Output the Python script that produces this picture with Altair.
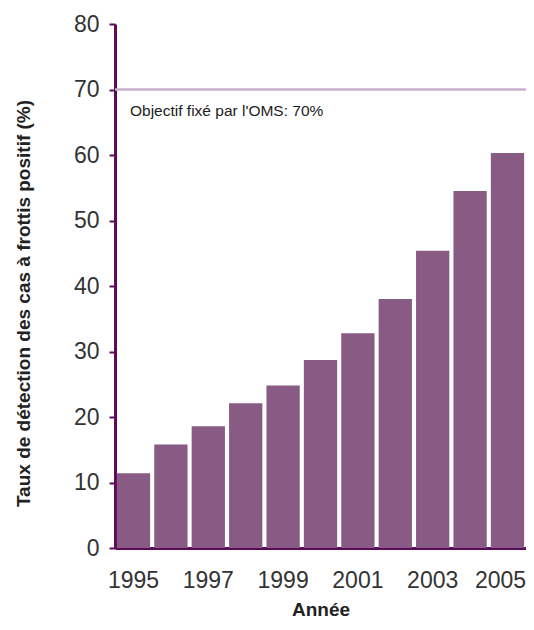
import altair as alt
import pandas as pd

years = [1995, 1996, 1997, 1998, 1999, 2000, 2001, 2002, 2003, 2004, 2005]
rates = [11.4, 15.8, 18.6, 22.1, 24.8, 28.7, 32.8, 38.0, 45.4, 54.5, 60.3]
label_years = [1995, 1997, 1999, 2001, 2003, 2005]
target = [70]
target_label = ["Objectif fixé par l'OMS: 70%"]

df = pd.DataFrame({"Année": years, "Taux": rates})
tdf = pd.DataFrame({"target": target, "label": target_label})

AX = "#5c0a5a"
BAR = "#885b84"
REF = "#c8b0cb"
FONT = "Liberation Sans"

bars = alt.Chart(df).mark_bar(color=BAR).encode(
    x=alt.X("Année:O",
            scale=alt.Scale(paddingInner=0.11, paddingOuter=0.05),
            axis=alt.Axis(title="Année", values=label_years, labelAngle=0,
                          ticks=False, domainColor=AX, domainWidth=3,
                          labelFont=FONT, labelFontSize=23,
                          labelColor="#333333", labelPadding=21,
                          labelOffset={"expr": "datum.value == 2005 ? -7 : 0"},
                          titleFont=FONT, titleFontSize=19,
                          titleFontWeight="bold", titleColor="#222222",
                          titleY=52, titleBaseline="top")),
    y=alt.Y("Taux:Q",
            scale=alt.Scale(domain=[0, 80], nice=False),
            axis=alt.Axis(title="Taux de détection des cas à frottis positif (%)",
                          values=[0, 10, 20, 30, 40, 50, 60, 70, 80],
                          grid=False, domainColor=AX, domainWidth=3,
                          tickColor=AX, tickWidth=2, tickSize=6,
                          labelFont=FONT, labelFontSize=23,
                          labelColor="#333333", labelPadding=10,
                          titleFont=FONT, titleFontSize=19,
                          titleFontWeight="bold", titleColor="#222222",
                          titleX=-82, titleY=279)),
)

rule = alt.Chart(tdf).mark_rule(color=REF, strokeWidth=2.5).encode(
    y=alt.Y("target:Q")
)

text = alt.Chart(tdf).mark_text(
    align="left", baseline="alphabetic", dy=26, font=FONT,
    fontSize=15.5, color="#222222"
).encode(
    x=alt.value(15),
    y=alt.Y("target:Q"),
    text="label:N",
)

chart = alt.layer(rule, bars, text).properties(
    width=411, height=524,
    autosize="none",
    padding={"left": 107, "top": 16, "right": 0, "bottom": 74},
).configure_view(stroke=None)

chart.save("out.html", embed_options={"renderer": "svg", "actions": False})
